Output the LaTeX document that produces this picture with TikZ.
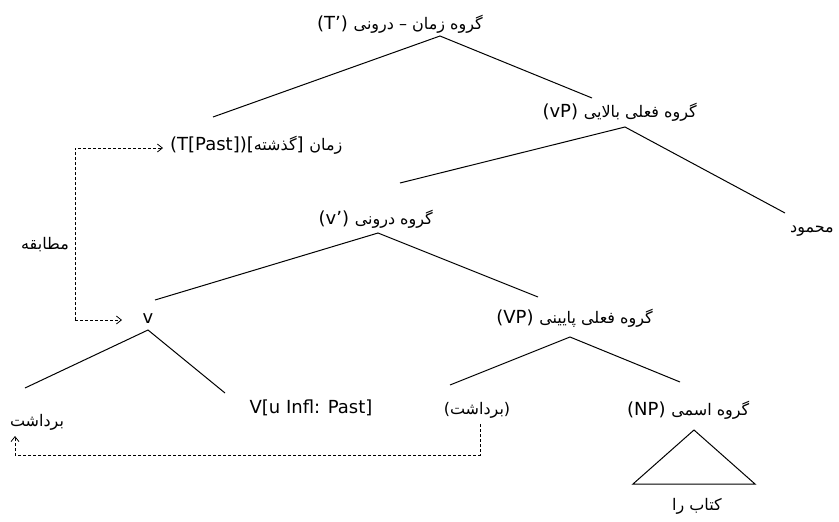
\documentclass[tikz,border=0pt]{standalone}
\usepackage{fontspec}
\setmainfont{DejaVu Sans}
\newfontfamily\arfam[Script=Arabic]{DejaVu Sans}
\newcommand\ar{\arfam\fontsize{16}{18}\selectfont}
\TeXXeTstate=1
\usetikzlibrary{arrows.meta}
\begin{document}
\begin{tikzpicture}[x=1pt,y=-1pt,
  lbl/.style={inner sep=0pt, font=\fontsize{18}{20}\selectfont},
  branch/.style={line width=1pt},
  mov/.style={densely dashed, line width=0.8pt},
  movarrow/.style={mov, -{Straight Barb[length=5pt,width=8pt]}}]
\useasboundingbox (0,0) rectangle (839,522);

% labels
\node[lbl, anchor=east] (top) at (483,24) {(T')~{\ar\beginR گروه زمان – درونی\endR}};
\node[lbl, anchor=west] (tpast) at (170,145) {(T[Past])[{\ar\beginR گذشته\endR}]~{\ar\beginR زمان\endR}};
\node[lbl, anchor=east] (vP) at (697,112) {(vP)~{\ar\beginR گروه فعلی بالایی\endR}};
\node[lbl, anchor=east] (vbar) at (433,219) {(v')~{\ar\beginR گروه درونی\endR}};
\node[lbl] (mahmud) at (812,231) {\ar\beginR محمود\endR};
\node[lbl, anchor=east] (VP) at (653,318) {(VP)~{\ar\beginR گروه فعلی پایینی\endR}};
\node[lbl] (v) at (148,319) {v};
\node[lbl] (bard) at (37,422) {\ar\beginR برداشت\endR};
\node[lbl] (Vinfl) at (311,408) {V[u Infl: Past]};
\node[lbl] (trace) at (477,410) {\ar\beginR (برداشت)\endR};
\node[lbl, anchor=west] (NP) at (627,410) {(NP)~{\ar\beginR گروه اسمی\endR}};
\node[lbl] (ketab) at (697,506) {\ar\beginR کتاب را\endR};
\node[lbl] (agree) at (45,245) {\ar\beginR مطابقه\endR};

% branch points
\coordinate (topA) at (440,36);
\coordinate (topL) at (213,117);
\coordinate (topR) at (592,98);
\coordinate (vPA) at (625,127);
\coordinate (vPL) at (400,183);
\coordinate (vPR) at (785,213);
\coordinate (vbA) at (378,233);
\coordinate (vbL) at (155,300);
\coordinate (vbR) at (538,297);
\coordinate (VPA) at (570,337);
\coordinate (VPL) at (450,385);
\coordinate (VPR) at (680,382);
\coordinate (vA) at (148,330);
\coordinate (vL) at (25,388);
\coordinate (vR) at (225,393);

\draw[branch] (topL) -- (topA) -- (topR);
\draw[branch] (vPL) -- (vPA) -- (vPR);
\draw[branch] (vbL) -- (vbA) -- (vbR);
\draw[branch] (VPL) -- (VPA) -- (VPR);
\draw[branch] (vL) -- (vA) -- (vR);

% triangle
\coordinate (triA) at (694,430);
\coordinate (triL) at (633,484);
\coordinate (triR) at (755,484);
\draw[branch] (triL) -- (triA) -- (triR) -- cycle;

% movement arrow
\coordinate (m1) at (480,424);
\coordinate (m2) at (480,455);
\coordinate (m3) at (15,455);
\coordinate (m4) at (15,436);
\draw[movarrow] (m1) -- (m2) -- (m3) -- (m4);

% agreement arrows
\coordinate (a1) at (75,320);
\coordinate (a2) at (75,148);
\coordinate (a3) at (163,148);
\coordinate (a4) at (122,320);
\draw[movarrow] (a1) -- (a2) -- (a3);
\draw[movarrow] (a1) -- (a4);
\end{tikzpicture}
\end{document}
